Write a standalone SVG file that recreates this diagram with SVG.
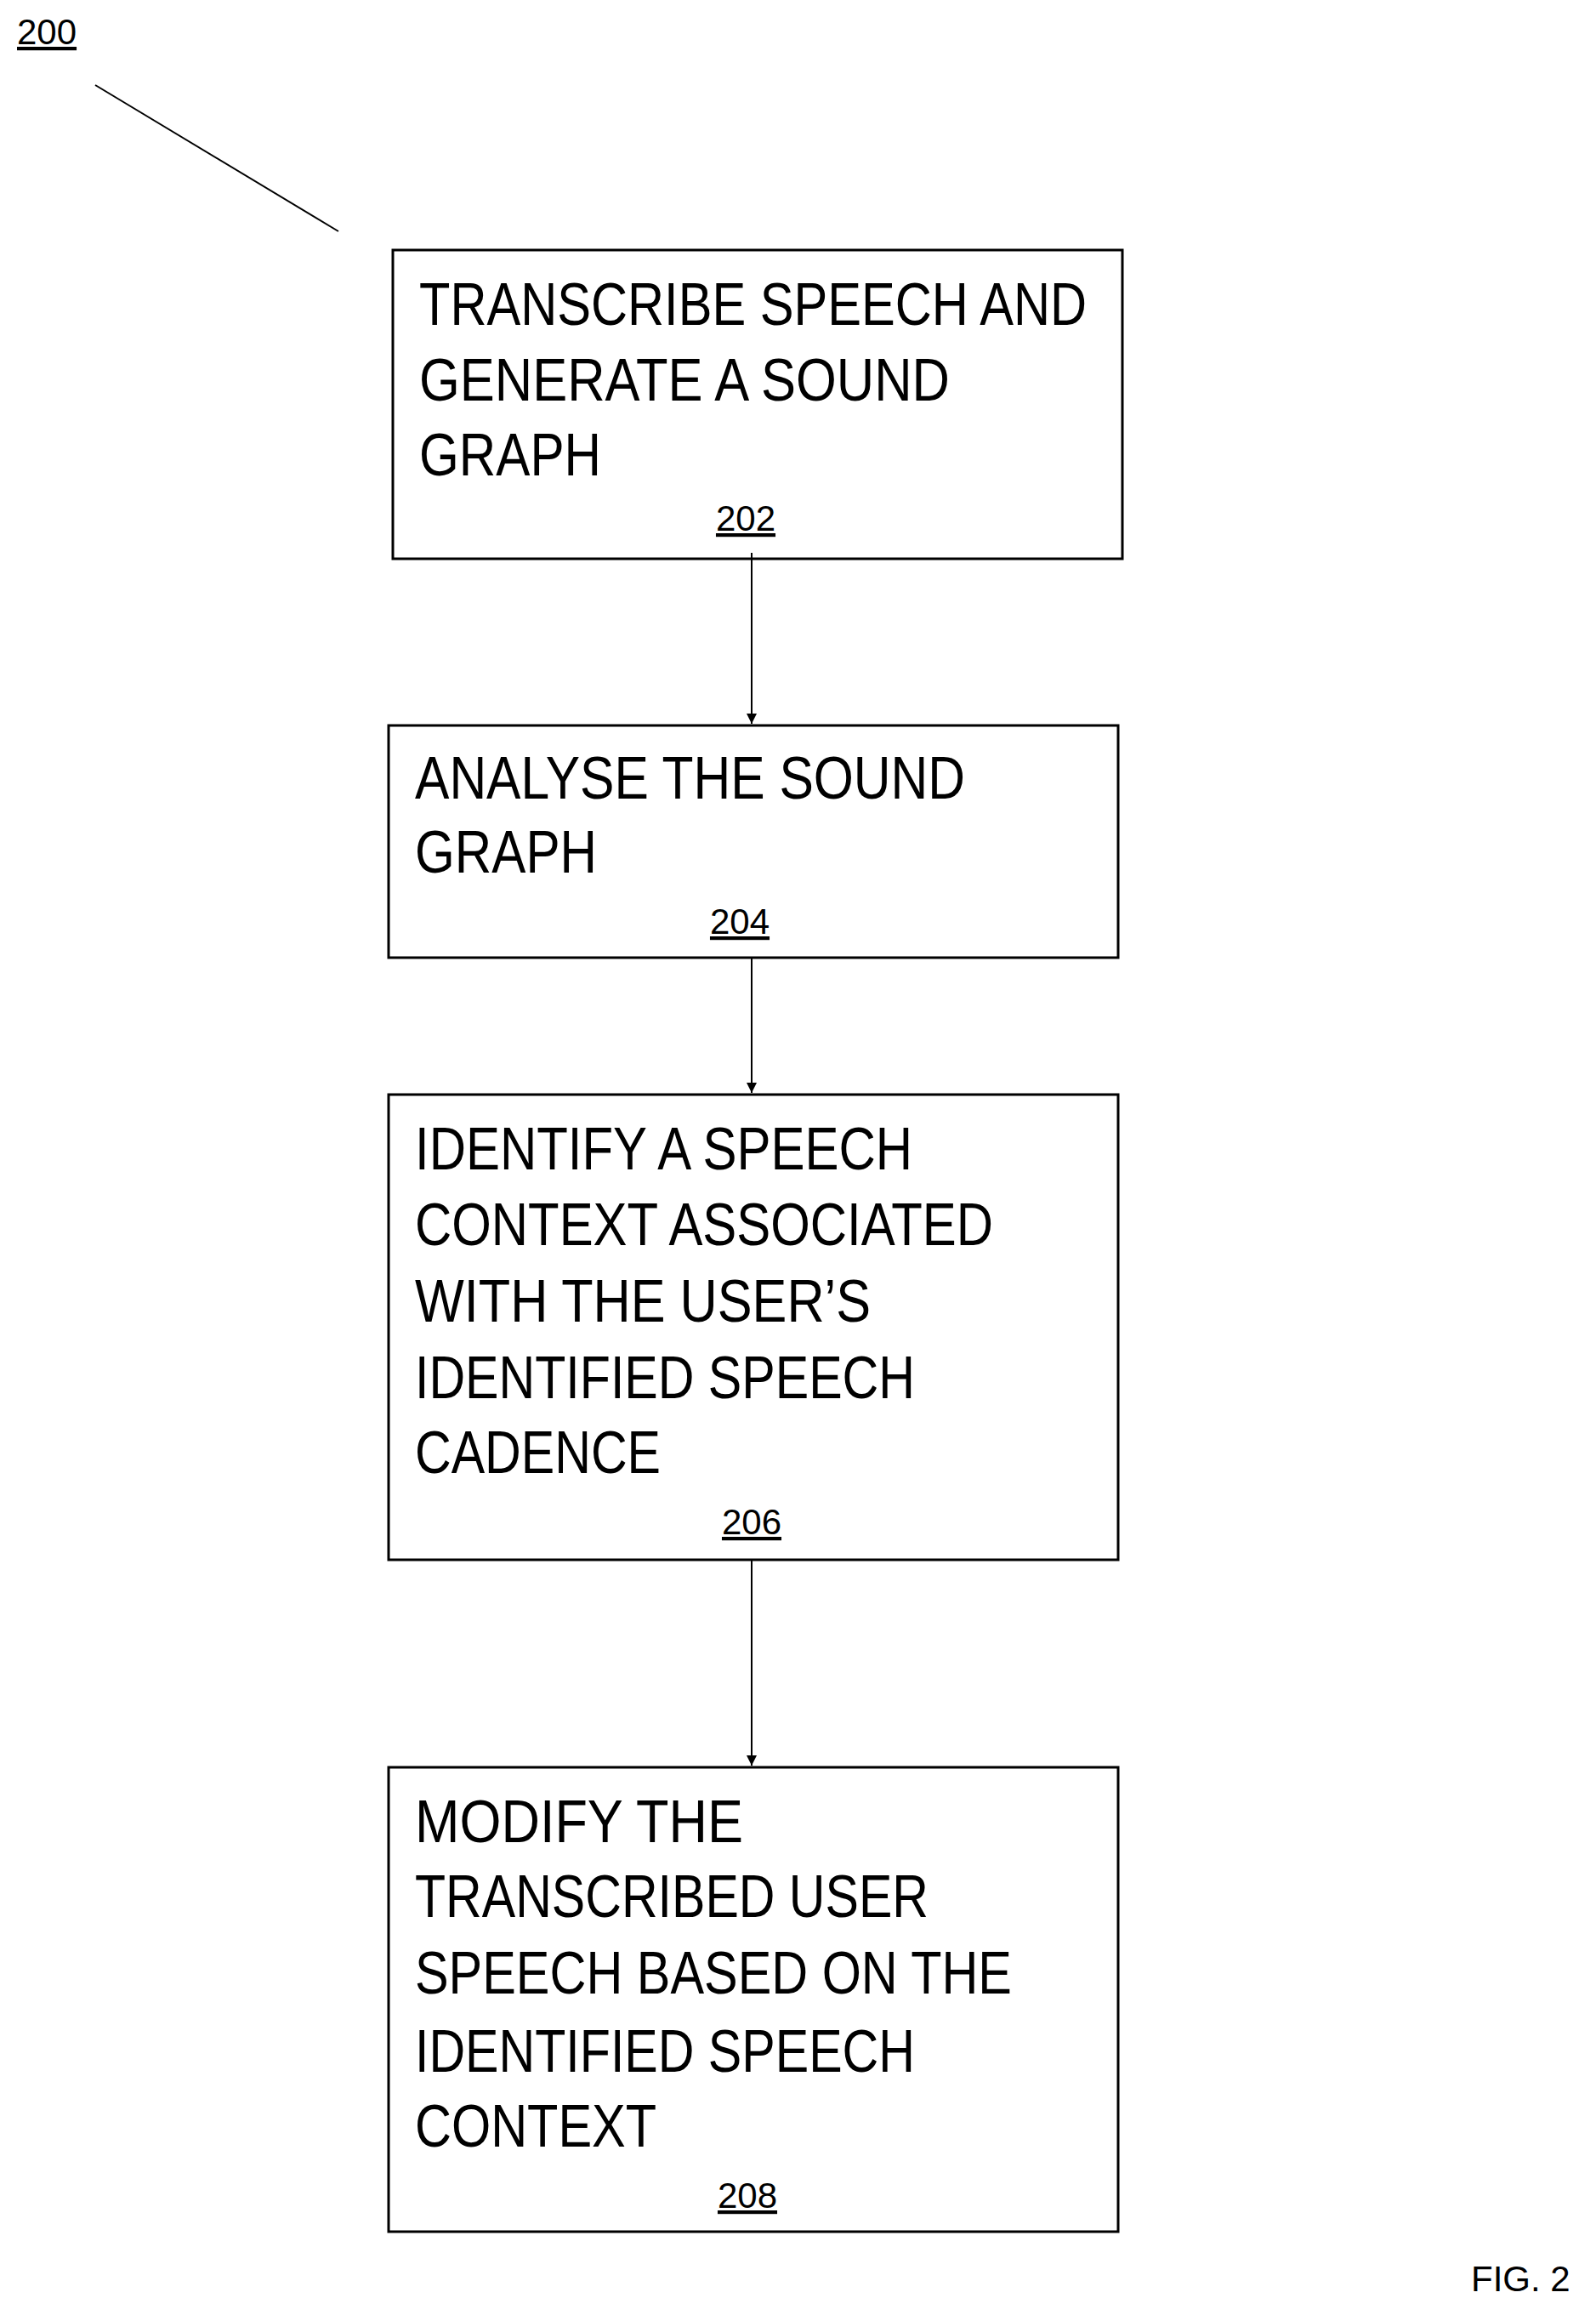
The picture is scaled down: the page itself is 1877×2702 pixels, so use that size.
<svg xmlns="http://www.w3.org/2000/svg" width="1877" height="2702" viewBox="0 0 1877 2702">
<style>
.b{fill:none;stroke:#000;stroke-width:3}
.t{font-family:"Liberation Sans",Arial,sans-serif;font-size:70px;fill:#000}
.n{font-family:"Liberation Sans",Arial,sans-serif;font-size:42px;fill:#000;text-decoration:underline;text-anchor:middle}
.c{stroke:#000;stroke-width:2;fill:none}
</style>
<defs><marker id="a" markerWidth="12" markerHeight="12" refX="10" refY="5" orient="auto" markerUnits="userSpaceOnUse" viewBox="0 0 10 10"><path d="M0,0 L10,5 L0,10 z" fill="#000"/></marker></defs>
<rect width="1877" height="2702" fill="#fff"/>
<g id="ref200">
<text x="20" y="52" class="n" style="text-anchor:start">200</text>
<line x1="112" y1="100" x2="398" y2="272" class="c"/>
</g>
<g id="n202">
<rect x="462" y="294" width="858" height="363" class="b"/>
<text class="t" x="493" y="382" textLength="785" lengthAdjust="spacingAndGlyphs">TRANSCRIBE SPEECH AND</text>
<text class="t" x="493" y="471" textLength="624" lengthAdjust="spacingAndGlyphs">GENERATE A SOUND</text>
<text class="t" x="493" y="559" textLength="214" lengthAdjust="spacingAndGlyphs">GRAPH</text>
<text class="n" x="877" y="624">202</text>
</g>
<g id="n204">
<rect x="457" y="853" width="858" height="273" class="b"/>
<text class="t" x="488" y="939" textLength="647" lengthAdjust="spacingAndGlyphs">ANALYSE THE SOUND</text>
<text class="t" x="488" y="1026" textLength="214" lengthAdjust="spacingAndGlyphs">GRAPH</text>
<text class="n" x="870" y="1098">204</text>
</g>
<g id="n206">
<rect x="457" y="1287" width="858" height="547" class="b"/>
<text class="t" x="488" y="1375" textLength="585" lengthAdjust="spacingAndGlyphs">IDENTIFY A SPEECH</text>
<text class="t" x="488" y="1464" textLength="680" lengthAdjust="spacingAndGlyphs">CONTEXT ASSOCIATED</text>
<text class="t" x="488" y="1554" textLength="536" lengthAdjust="spacingAndGlyphs">WITH THE USER’S</text>
<text class="t" x="488" y="1644" textLength="588" lengthAdjust="spacingAndGlyphs">IDENTIFIED SPEECH</text>
<text class="t" x="488" y="1732" textLength="289" lengthAdjust="spacingAndGlyphs">CADENCE</text>
<text class="n" x="884" y="1804">206</text>
</g>
<g id="n208">
<rect x="457" y="2078" width="858" height="546" class="b"/>
<text class="t" x="488" y="2166" textLength="386" lengthAdjust="spacingAndGlyphs">MODIFY THE</text>
<text class="t" x="488" y="2254" textLength="604" lengthAdjust="spacingAndGlyphs">TRANSCRIBED USER</text>
<text class="t" x="488" y="2344" textLength="702" lengthAdjust="spacingAndGlyphs">SPEECH BASED ON THE</text>
<text class="t" x="488" y="2436" textLength="588" lengthAdjust="spacingAndGlyphs">IDENTIFIED SPEECH</text>
<text class="t" x="488" y="2524" textLength="284" lengthAdjust="spacingAndGlyphs">CONTEXT</text>
<text class="n" x="879" y="2596">208</text>
</g>
<g id="connectors">
<line x1="884" y1="650" x2="884" y2="851" class="c" marker-end="url(#a)"/>
<line x1="884" y1="1126" x2="884" y2="1285" class="c" marker-end="url(#a)"/>
<line x1="884" y1="1834" x2="884" y2="2076" class="c" marker-end="url(#a)"/>
</g>
<text x="1730" y="2694" style="font-family:'Liberation Sans',Arial,sans-serif;font-size:42px">FIG. 2</text>
</svg>
